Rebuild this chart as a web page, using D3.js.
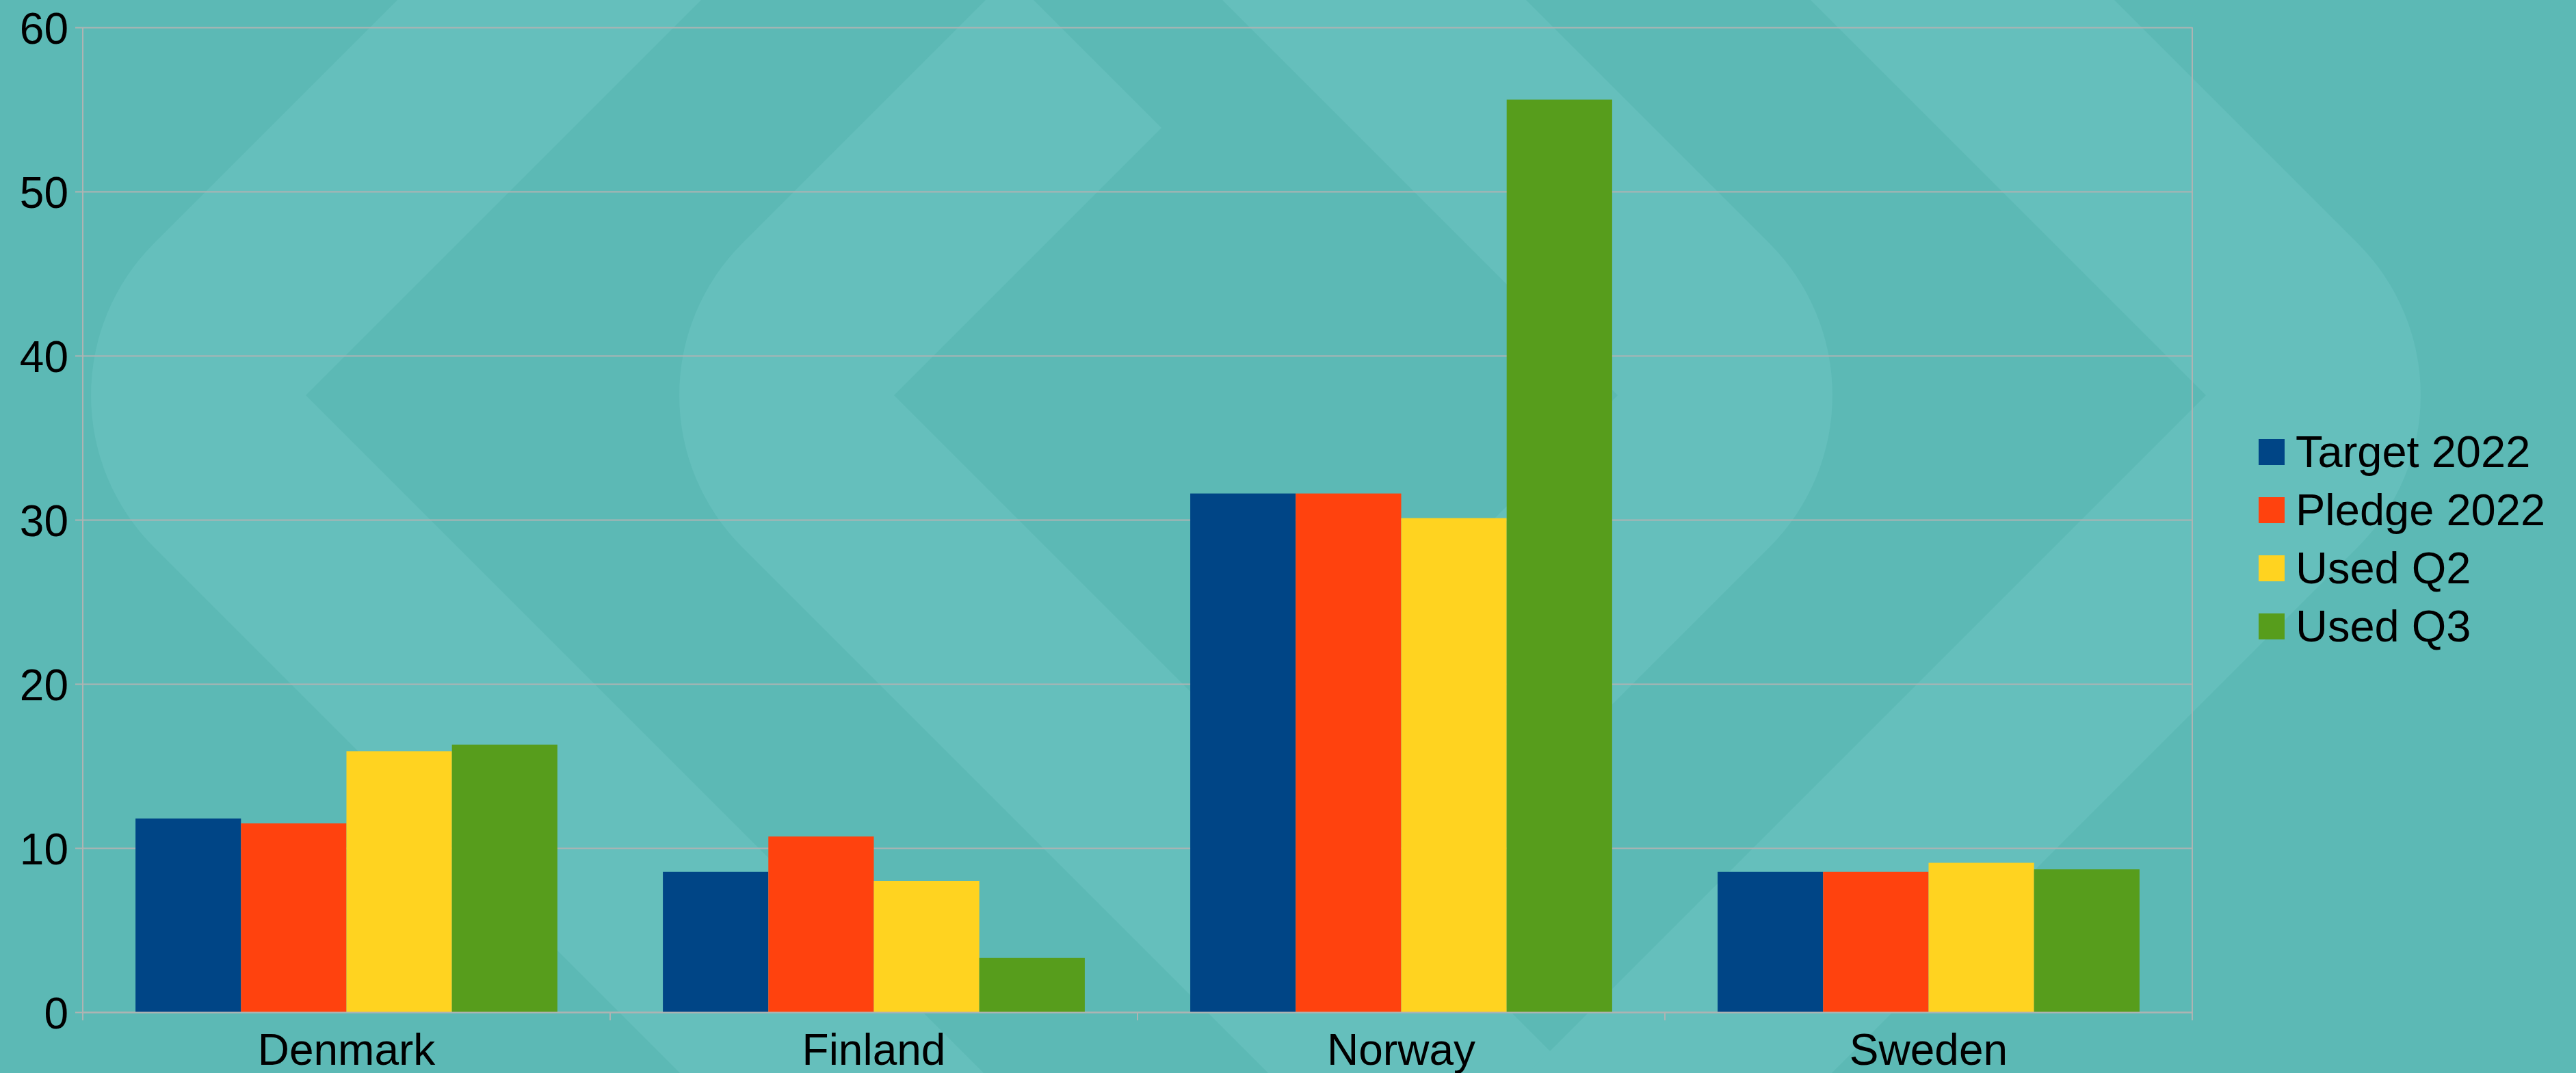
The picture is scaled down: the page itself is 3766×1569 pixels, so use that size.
<!DOCTYPE html>
<html>
<head>
<meta charset="utf-8">
<script src="https://cdn.jsdelivr.net/npm/d3@7"></script>
<style>
  html, body { margin: 0; padding: 0; background: #5cb9b5; }
  svg { display: block; }
  text { font-family: "Liberation Sans", Arial, sans-serif; }
</style>
</head>
<body>
<div id="chart"></div>
<script>
// values
const countries = ["Denmark", "Finland", "Norway", "Sweden"];
const seriesNames = ["Target 2022", "Pledge 2022", "Used Q2", "Used Q3"];
const target2022 = [11.8, 8.55, 31.6, 8.55];
const pledge2022 = [11.5, 10.7, 31.6, 8.55];
const usedQ2 = [15.9, 8.0, 30.1, 9.1];
const usedQ3 = [16.3, 3.3, 55.6, 8.7];
const yTicks = [0, 10, 20, 30, 40, 50, 60];
const seriesColors = ["#004586", "#ff420e", "#ffd320", "#579d1c"];

const width = 3766, height = 1569;
const margin = { top: 40, right: 561, bottom: 89, left: 121 };
const fontSize = 64;
const legendFont = 65;

const seriesValues = [target2022, pledge2022, usedQ2, usedQ3];
const rows = countries.map((c, i) => ({
    country: c,
    values: seriesNames.map((s, k) => ({ key: s, value: seriesValues[k][i], idx: k }))
}));

const svg = d3.select("#chart").append("svg")
    .attr("width", width)
    .attr("height", height);

// background with the big pale chevron pattern
svg.append("rect").attr("width", width).attr("height", height).attr("fill", "#5cb9b5");

function chevron(vx, cy, t, upLen, lowLen) {
    const h = t / 2, r = t / Math.SQRT2;
    const p1 = [vx + h, cy - h], p2 = [vx + h, cy + h];
    const n = [vx + t, cy];
    const f1 = [p1[0] + upLen, p1[1] - upLen], f2 = [f1[0] + h, f1[1] + h];
    const f4 = [p2[0] + lowLen, p2[1] + lowLen], f3 = [f4[0] + h, f4[1] - h];
    return `M${p1}L${f1}L${f2}L${n}L${f3}L${f4}L${p2}A${r},${r} 0 0 1 ${p1}Z`;
}

const cy = 578, thick = 444, mid = 1836;
const deco = svg.append("g").attr("fill", "#65bfbc");
deco.append("path").attr("d", chevron(3, cy, thick, 2000, 2000));
deco.append("path").attr("d", chevron(863, cy, thick, 391, 2000));
deco.append("path").attr("d", chevron(863, cy, thick, 391, 2000))
    .attr("transform", `rotate(180,${mid},${cy})`);
deco.append("path").attr("d", chevron(3, cy, thick, 2000, 2000))
    .attr("transform", `rotate(180,${mid},${cy})`);

const plotW = width - margin.left - margin.right;
const plotB = height - margin.bottom;

const x0 = d3.scaleBand()
    .domain(countries)
    .range([margin.left, width - margin.right])
    .padding(0);

const x1 = d3.scaleBand()
    .domain(seriesNames)
    .range([x0.bandwidth() * 0.1, x0.bandwidth() * 0.9])
    .padding(0);

const y = d3.scaleLinear()
    .domain([0, 60])
    .range([plotB, margin.top]);

const color = d3.scaleOrdinal().domain(seriesNames).range(seriesColors);

const gridColor = "#aeb4b3";

// gridlines
svg.append("g")
    .attr("transform", `translate(${margin.left},0)`)
    .call(d3.axisLeft(y).tickValues(yTicks).tickSize(-plotW).tickFormat(""))
    .call(g => g.select(".domain").remove())
    .call(g => g.selectAll("line").attr("stroke", gridColor).attr("stroke-width", 2));

// right border of the plot area
svg.append("line")
    .attr("x1", width - margin.right).attr("x2", width - margin.right)
    .attr("y1", margin.top).attr("y2", plotB)
    .attr("stroke", gridColor).attr("stroke-width", 2);

// bars
svg.append("g")
    .selectAll("g")
    .data(rows)
    .join("g")
    .attr("transform", d => `translate(${x0(d.country)},0)`)
    .selectAll("rect")
    .data(d => d.values)
    .join("rect")
    .attr("x", d => x1(d.key))
    .attr("width", x1.bandwidth())
    .attr("y", d => y(d.value))
    .attr("height", d => y(0) - y(d.value))
    .attr("fill", d => color(d.key));

// y axis
svg.append("g")
    .attr("transform", `translate(${margin.left},0)`)
    .call(d3.axisLeft(y).tickValues(yTicks).tickSizeInner(11).tickSizeOuter(0).tickPadding(10))
    .call(g => g.select(".domain").attr("stroke", gridColor).attr("stroke-width", 2)
        .attr("d", `M0,${margin.top}V${plotB}`))
    .call(g => g.selectAll("line").attr("stroke", gridColor).attr("stroke-width", 2))
    .call(g => g.selectAll("text")
        .attr("fill", "#000")
        .attr("dy", "0.36em")
        .style("font-size", fontSize + "px")
        .style("font-family", '"Liberation Sans", Arial, sans-serif'));

// x axis line + category labels
svg.append("g")
    .attr("transform", `translate(0,${plotB})`)
    .call(d3.axisBottom(x0).tickSizeInner(0).tickSizeOuter(0).tickPadding(32))
    .call(g => g.select(".domain").attr("stroke", gridColor).attr("stroke-width", 2))
    .call(g => g.selectAll("text")
        .attr("fill", "#000")
        .style("font-size", fontSize + "px")
        .style("font-family", '"Liberation Sans", Arial, sans-serif'));

// category boundary ticks
const bounds = countries.map(c => x0(c)).concat([x0(countries[countries.length - 1]) + x0.bandwidth()]);
svg.append("g")
    .selectAll("line")
    .data(bounds)
    .join("line")
    .attr("x1", d => d).attr("x2", d => d)
    .attr("y1", plotB).attr("y2", plotB + 12)
    .attr("stroke", gridColor).attr("stroke-width", 2);

// legend
const legend = svg.append("g").attr("transform", "translate(3302,642)");
const item = legend.selectAll("g")
    .data(seriesNames)
    .join("g")
    .attr("transform", (d, i) => `translate(0,${i * 85})`);
item.append("rect")
    .attr("width", 38).attr("height", 38)
    .attr("fill", d => color(d));
item.append("text")
    .attr("x", 54).attr("y", 41)
    .attr("fill", "#000")
    .style("font-size", legendFont + "px")
    .text(d => d);
</script>
</body>
</html>
